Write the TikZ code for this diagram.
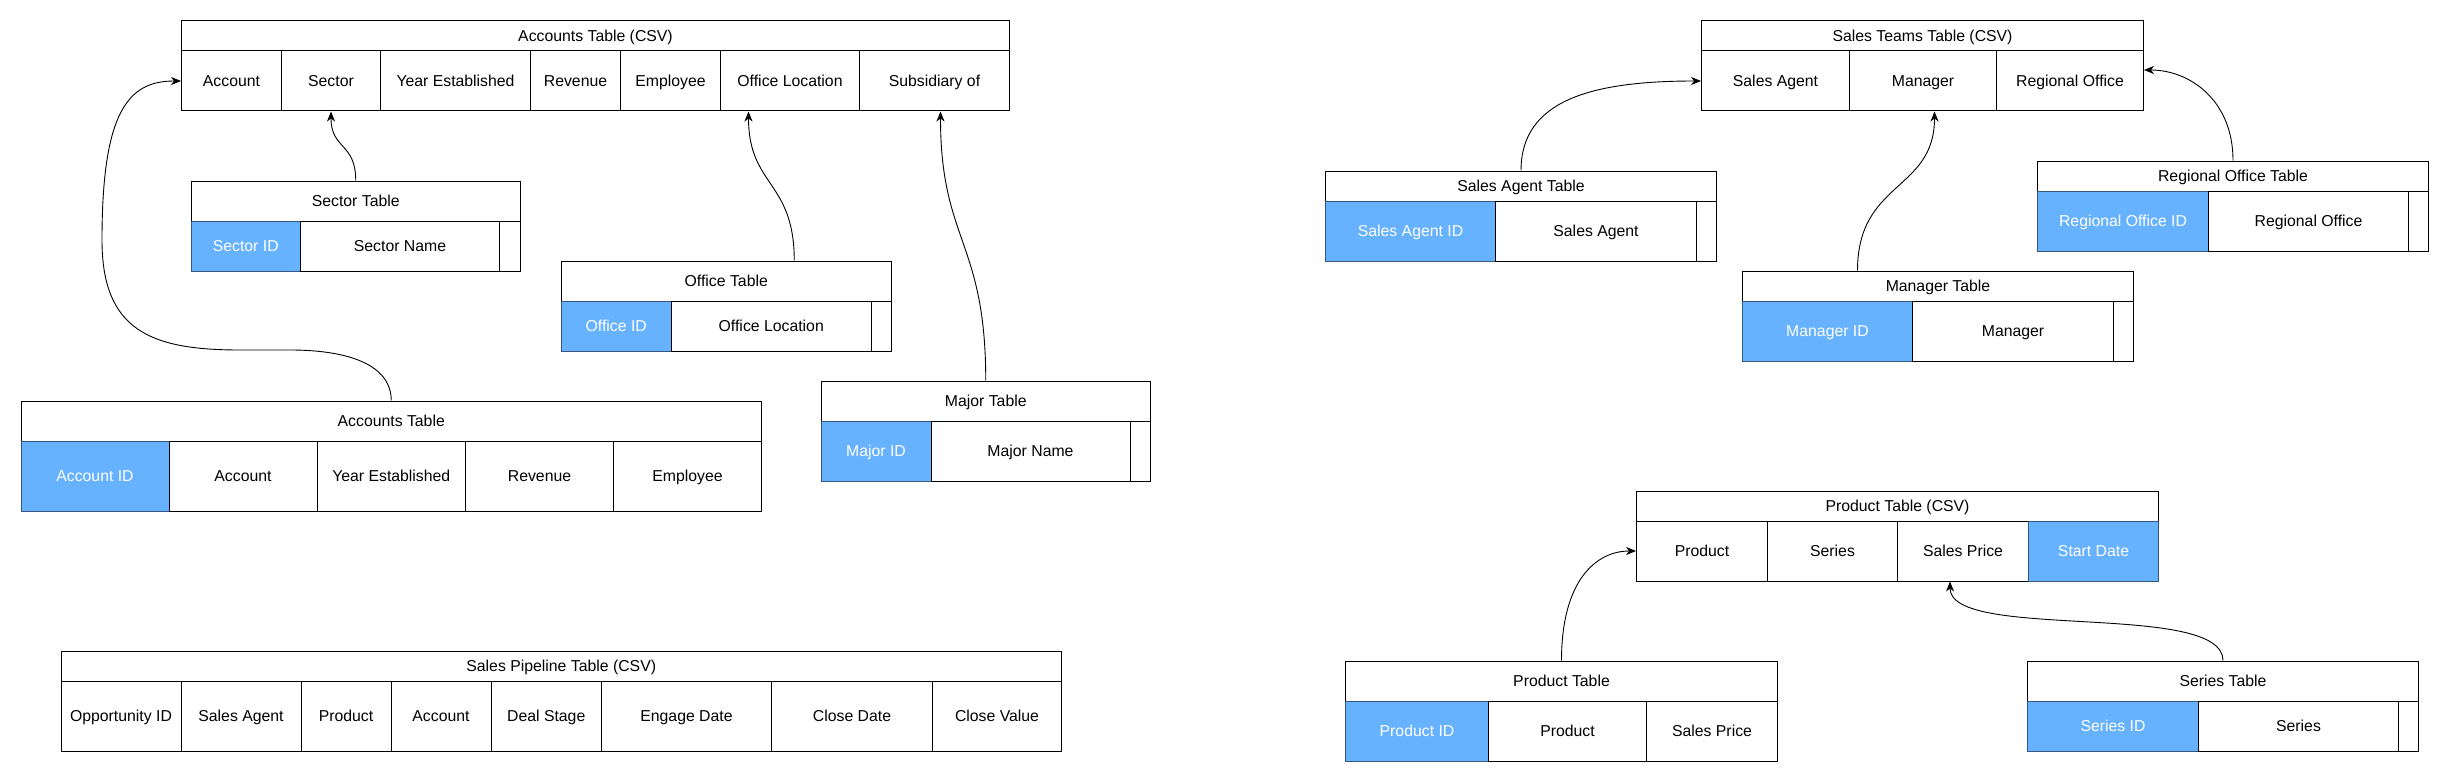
\documentclass[tikz,border=0pt]{standalone}
\usepackage{fontspec}
\setmainfont{Liberation Sans}
\usetikzlibrary{arrows.meta}
\definecolor{keyblue}{HTML}{66B2FF}
\definecolor{keyedge}{HTML}{36587F}

\begin{document}
\begin{tikzpicture}[x=1pt,y=-1pt,
    tab/.style={draw,line width=1pt,inner sep=0pt,anchor=north west,text height=11.3pt,text depth=0pt,font=\fontsize{15.8}{18}\selectfont},
    key/.style={tab,fill=keyblue,draw=keyedge,text=white},
    link/.style={line width=0.9pt,-{Stealth[length=10pt,width=8pt,inset=3pt]}}]
    \useasboundingbox (0,0) rectangle (2446,781);

    % accounts table (csv)
    \node[tab,minimum width=828pt,minimum height=30pt] (acsv) at (181,20.5) {Accounts Table (CSV)};
    \foreach \a/\b/\txt [count=\i] in {181/281/Account,281/380/Sector,380/530/Year Established,530/620/Revenue,620/720/Employee,720/859/Office Location,859/1009/Subsidiary of}
        \node[tab,minimum width={(\b-\a)*1pt},minimum height=60pt] (acsv-\i) at (\a,50.5) {\txt};

    % sector table
    \node[tab,minimum width=329.5pt,minimum height=40pt] (sectab) at (190.5,180.5) {Sector Table};
    \node[key,minimum width=109.5pt,minimum height=50pt] (sec-1) at (190.5,220.5) {Sector ID};
    \foreach \a/\b/\txt [count=\i from 2] in {300/499/Sector Name,499/520/{}}
        \node[tab,minimum width={(\b-\a)*1pt},minimum height=50pt] (sec-\i) at (\a,220.5) {\txt};

    % office table
    \node[tab,minimum width=330.5pt,minimum height=40pt] (offtab) at (560.5,260.5) {Office Table};
    \node[key,minimum width=110.5pt,minimum height=50pt] (off-1) at (560.5,300.5) {Office ID};
    \foreach \a/\b/\txt [count=\i from 2] in {671/870.5/Office Location,870.5/891/{}}
        \node[tab,minimum width={(\b-\a)*1pt},minimum height=50pt] (off-\i) at (\a,300.5) {\txt};

    % major table
    \node[tab,minimum width=329.5pt,minimum height=40pt] (majtab) at (820.5,380.5) {Major Table};
    \node[key,minimum width=110pt,minimum height=60pt] (maj-1) at (820.5,420.5) {Major ID};
    \foreach \a/\b/\txt [count=\i from 2] in {930.5/1129.5/Major Name,1129.5/1150/{}}
        \node[tab,minimum width={(\b-\a)*1pt},minimum height=60pt] (maj-\i) at (\a,420.5) {\txt};

    % accounts table
    \node[tab,minimum width=740.5pt,minimum height=40pt] (acctab) at (20.5,400.5) {Accounts Table};
    \node[key,minimum width=148pt,minimum height=70pt] (acc-1) at (20.5,440.5) {Account ID};
    \foreach \a/\b/\txt [count=\i from 2] in {168.5/316.5/Account,316.5/465/Year Established,465/613/Revenue,613/761/Employee}
        \node[tab,minimum width={(\b-\a)*1pt},minimum height=70pt] (acc-\i) at (\a,440.5) {\txt};

    % sales pipeline table (csv)
    \node[tab,minimum width=1000.5pt,minimum height=30pt] (pipe) at (60.5,650.5) {Sales Pipeline Table (CSV)};
    \foreach \a/\b/\txt [count=\i] in {60.5/180.5/Opportunity ID,180.5/300.5/Sales Agent,300.5/390.5/Product,390.5/490.5/Account,490.5/601/Deal Stage,601/771/Engage Date,771/932/Close Date,932/1061/Close Value}
        \node[tab,minimum width={(\b-\a)*1pt},minimum height=70pt] (pipe-\i) at (\a,680.5) {\txt};

    % sales teams table (csv)
    \node[tab,minimum width=442pt,minimum height=30pt] (teams) at (1701,20.5) {Sales Teams Table (CSV)};
    \foreach \a/\b/\txt [count=\i] in {1701/1849/Sales Agent,1849/1996/Manager,1996/2143/Regional Office}
        \node[tab,minimum width={(\b-\a)*1pt},minimum height=60pt] (teams-\i) at (\a,50.5) {\txt};

    % sales agent table
    \node[tab,minimum width=391pt,minimum height=30pt] (agenttab) at (1325,170.5) {Sales Agent Table};
    \node[key,minimum width=170pt,minimum height=60pt] (agent-1) at (1325,200.5) {Sales Agent ID};
    \foreach \a/\b/\txt [count=\i from 2] in {1495/1696/Sales Agent,1696/1716/{}}
        \node[tab,minimum width={(\b-\a)*1pt},minimum height=60pt] (agent-\i) at (\a,200.5) {\txt};

    % manager table
    \node[tab,minimum width=391pt,minimum height=30pt] (mgrtab) at (1742,270.5) {Manager Table};
    \node[key,minimum width=170pt,minimum height=60pt] (mgr-1) at (1742,300.5) {Manager ID};
    \foreach \a/\b/\txt [count=\i from 2] in {1912/2113/Manager,2113/2133/{}}
        \node[tab,minimum width={(\b-\a)*1pt},minimum height=60pt] (mgr-\i) at (\a,300.5) {\txt};

    % regional office table
    \node[tab,minimum width=391pt,minimum height=30pt] (regtab) at (2037,160.5) {Regional Office Table};
    \node[key,minimum width=171pt,minimum height=60pt] (reg-1) at (2037,190.5) {Regional Office ID};
    \foreach \a/\b/\txt [count=\i from 2] in {2208/2408/Regional Office,2408/2428/{}}
        \node[tab,minimum width={(\b-\a)*1pt},minimum height=60pt] (reg-\i) at (\a,190.5) {\txt};

    % product table (csv)
    \node[tab,minimum width=522pt,minimum height=30pt] (prodcsv) at (1636,490.5) {Product Table (CSV)};
    \foreach \a/\b/\txt [count=\i] in {1636/1767/Product,1767/1897/Series,1897/2028/Sales Price}
        \node[tab,minimum width={(\b-\a)*1pt},minimum height=60pt] (prodcsv-\i) at (\a,520.5) {\txt};
    \node[key,minimum width=130pt,minimum height=60pt] (prodcsv-4) at (2028,520.5) {Start Date};

    % product table
    \node[tab,minimum width=432pt,minimum height=40pt] (prodtab) at (1345,660.5) {Product Table};
    \node[key,minimum width=143pt,minimum height=60pt] (prod-1) at (1345,700.5) {Product ID};
    \foreach \a/\b/\txt [count=\i from 2] in {1488/1646/Product,1646/1777/Sales Price}
        \node[tab,minimum width={(\b-\a)*1pt},minimum height=60pt] (prod-\i) at (\a,700.5) {\txt};

    % series table
    \node[tab,minimum width=391pt,minimum height=40pt] (sertab) at (2027,660.5) {Series Table};
    \node[key,minimum width=171pt,minimum height=50pt] (ser-1) at (2027,700.5) {Series ID};
    \foreach \a/\b/\txt [count=\i from 2] in {2198/2398/Series,2398/2418/{}}
        \node[tab,minimum width={(\b-\a)*1pt},minimum height=50pt] (ser-\i) at (\a,700.5) {\txt};

    % links to the csv tables
    \draw[link] (sectab.north) .. controls +(0,-38) and +(0,38) .. (acsv-2.south);
    \draw[link] ([xshift=68pt]offtab.north) .. controls +(0,-80) and +(0,75) .. ([xshift=-41.5pt]acsv-6.south);
    \draw[link] (majtab.north) .. controls +(0,-140) and +(0,130) .. ([xshift=6pt]acsv-7.south);
    \draw[link] (acctab.north) .. controls +(0,-35) and +(60,0) .. (290,350) -- (240,350)
        .. controls +(-90,0) and +(0,90) .. (102,240) .. controls +(0,-130) and +(-52,0) .. (acsv-1.west);
    \draw[link] (agenttab.north) .. controls +(0,-70) and +(-110,0) .. (teams-1.west);
    \draw[link] ([xshift=-80.5pt]mgrtab.north) .. controls +(0,-90) and +(0,80) .. ([xshift=11.5pt]teams-2.south);
    \draw[link] (regtab.north) .. controls +(0,-60) and +(46,0) .. ([yshift=11pt]teams-3.east);
    \draw[link] (prodtab.north) .. controls +(0,-80) and +(-40,0) .. (prodcsv-1.west);
    \draw[link] (sertab.north) .. controls +(0,-60) and +(0,60) .. ([xshift=-13pt]prodcsv-3.south);
\end{tikzpicture}
\end{document}
